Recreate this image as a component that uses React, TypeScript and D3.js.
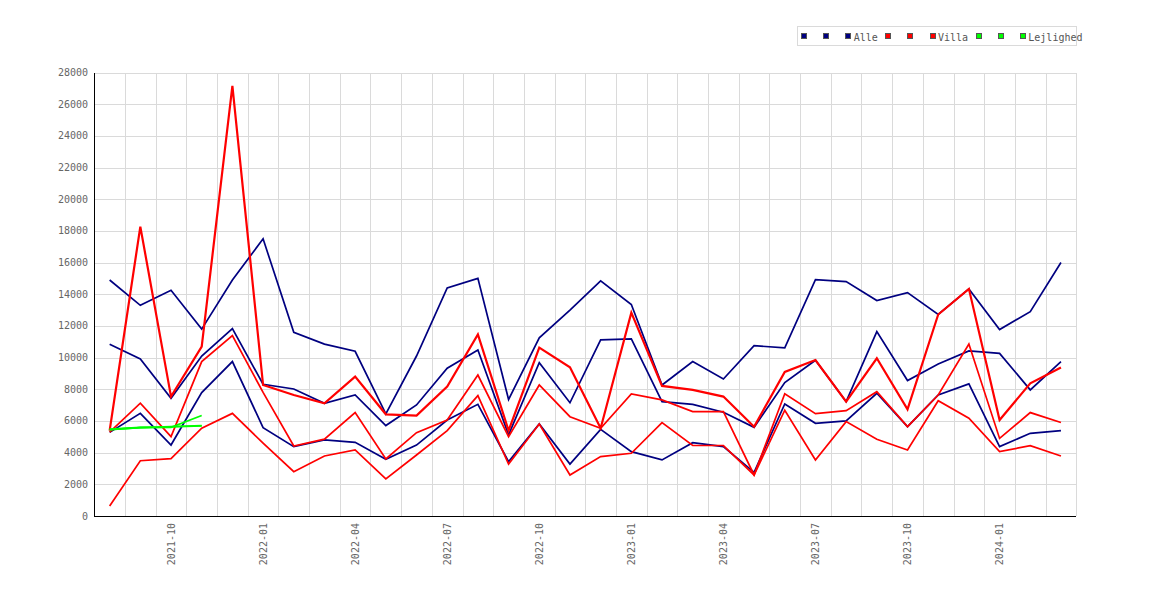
import React from "react";
import * as d3 from "d3";

const months = [
  "2021-08","2021-09","2021-10","2021-11","2021-12","2022-01","2022-02","2022-03",
  "2022-04","2022-05","2022-06","2022-07","2022-08","2022-09","2022-10","2022-11",
  "2022-12","2023-01","2023-02","2023-03","2023-04","2023-05","2023-06","2023-07",
  "2023-08","2023-09","2023-10","2023-11","2023-12","2024-01","2024-02","2024-03",
];
const tickMonths = ["2021-10","2022-01","2022-04","2022-07","2022-10","2023-01","2023-04","2023-07","2023-10","2024-01"];
const yTicks = [0,2000,4000,6000,8000,10000,12000,14000,16000,18000,20000,22000,24000,26000,28000];

const alle1 = [14900,13300,14250,11800,14900,17500,11600,10850,10400,6450,10100,14400,15000,7350,11250,13000,14850,13350,8270,9750,8650,10750,10620,14920,14800,13600,14100,12720,14340,11770,12900,16000];
const alle2 = [10840,9920,7430,10100,11830,8320,8020,7120,7640,5710,7010,9330,10480,5120,9680,7150,11120,11180,7220,7050,6550,5600,8420,9830,7220,11640,8550,9600,10420,10270,7960,9750];
const alle3 = [5280,6480,4480,7790,9750,5580,4380,4800,4650,3580,4480,6060,7050,3430,5810,3280,5470,4060,3540,4630,4380,2760,7070,5850,6000,7750,5640,7640,8340,4380,5220,5390];

const villa1 = [5390,18270,7540,10700,27160,8270,7640,7120,8800,6420,6340,8170,11470,5390,10630,9390,5540,12840,8210,7960,7540,5640,9100,9850,7220,9960,6740,12720,14340,6060,8380,9370];
const villa2 = [5300,7120,5010,9750,11390,7800,4420,4850,6530,3600,5260,6060,8900,5010,8270,6270,5540,7700,7330,6590,6590,2590,7720,6460,6650,7850,5640,7640,10860,4900,6530,5900];
const villa3 = [630,3490,3620,5540,6480,4600,2800,3790,4170,2340,3850,5390,7600,3280,5810,2590,3750,3960,5900,4450,4450,2590,6680,3540,5960,4840,4170,7280,6170,4060,4440,3790];

const lejl1 = [5450,5580,5600,6340];
const lejl2 = [5450,5580,5650,5700];
const lejl3 = [5480,5600,5620,5690];

const groupNames = ["Alle", "Villa", "Lejlighed"];
const groupColors = ["#000080", "#ff0000", "#00ff00"];

const seriesList = [
  { group: 0, label: "", values: alle1 },
  { group: 0, label: "", values: alle2 },
  { group: 0, label: groupNames[0], values: alle3 },
  { group: 1, label: "", values: villa1 },
  { group: 1, label: "", values: villa2 },
  { group: 1, label: groupNames[1], values: villa3 },
  { group: 2, label: "", values: lejl1 },
  { group: 2, label: "", values: lejl2 },
  { group: 2, label: groupNames[2], values: lejl3 },
];

const W = 1170, H = 600;
const left = 94.3, right = 1076.3, top = 72.5, bottom = 516;
const font = "'DejaVu Sans Mono', monospace";

export default function App() {
  const x = d3.scaleBand<string>().domain(months).range([left, right]).padding(0);
  const y = d3.scaleLinear().domain([0, 28000]).range([bottom, top]);
  const cx = (m: string) => (x(m) as number) + x.bandwidth() / 2;

  const line = d3
    .line<number>()
    .x((_, i) => cx(months[i]))
    .y((v) => y(v));

  const crisp = (v: number) => Math.round(v) + 0.5;

  let lx = 801;
  const legendItems = seriesList.map((s) => {
    const item = { x: lx, label: s.label, color: groupColors[s.group] };
    lx += 22.1 + (s.label ? Math.max(0, s.label.length * 6 - 6) : 0);
    return item;
  });

  return (
    <div style={{ position: "absolute", left: 0, top: 0, width: W, height: H, overflow: "hidden", background: "#fff" }}>
      <svg width={W} height={H} style={{ display: "block" }}>
        <rect x={0} y={0} width={W} height={H} fill="#fff" />
        {yTicks.map((t) => (
          <line key={"hg" + t} x1={left} x2={right} y1={crisp(y(t))} y2={crisp(y(t))} stroke="#dadada" strokeWidth={1} shapeRendering="crispEdges" />
        ))}
        {months.map((m, i) => {
          const gx = crisp((x(m) as number) + x.bandwidth());
          return <line key={"vg" + i} x1={gx} x2={gx} y1={top} y2={bottom} stroke="#dadada" strokeWidth={1} shapeRendering="crispEdges" />;
        })}
        <line x1={crisp(left)} x2={crisp(left)} y1={top} y2={crisp(bottom)} stroke="#000" strokeWidth={1} shapeRendering="crispEdges" />
        <line x1={crisp(left)} x2={right} y1={crisp(bottom)} y2={crisp(bottom)} stroke="#000" strokeWidth={1} shapeRendering="crispEdges" />
        {yTicks.map((t) => (
          <text key={"yl" + t} x={88} y={y(t)} textAnchor="end" dominantBaseline="central" fontFamily={font} fontSize={10} fill="#666">
            {t}
          </text>
        ))}
        {tickMonths.map((m) => (
          <text key={"xl" + m} transform={`translate(${cx(m)},523) rotate(-90)`} textAnchor="end" dominantBaseline="central" fontFamily={font} fontSize={10} fill="#666">
            {m}
          </text>
        ))}
        {seriesList.map((s, i) => (
          <path key={"s" + i} d={line(s.values) || ""} fill="none" stroke={groupColors[s.group]} strokeWidth={i === 3 ? 2.2 : 1.7} strokeLinejoin="miter" />
        ))}
        <rect x={797.5} y={26.5} width={278.5} height={19} fill="#fff" stroke="#dadada" strokeWidth={1} shapeRendering="crispEdges" />
        {legendItems.map((it, i) => (
          <g key={"lg" + i}>
            <rect x={it.x + 0.5} y={33.5} width={5} height={5} fill={it.color} stroke="#555" strokeWidth={1} shapeRendering="crispEdges" />
            {it.label ? (
              <text x={it.x + 8.5} y={40.5} fontFamily={font} fontSize={10} fill="#555">
                {it.label}
              </text>
            ) : null}
          </g>
        ))}
      </svg>
    </div>
  );
}
